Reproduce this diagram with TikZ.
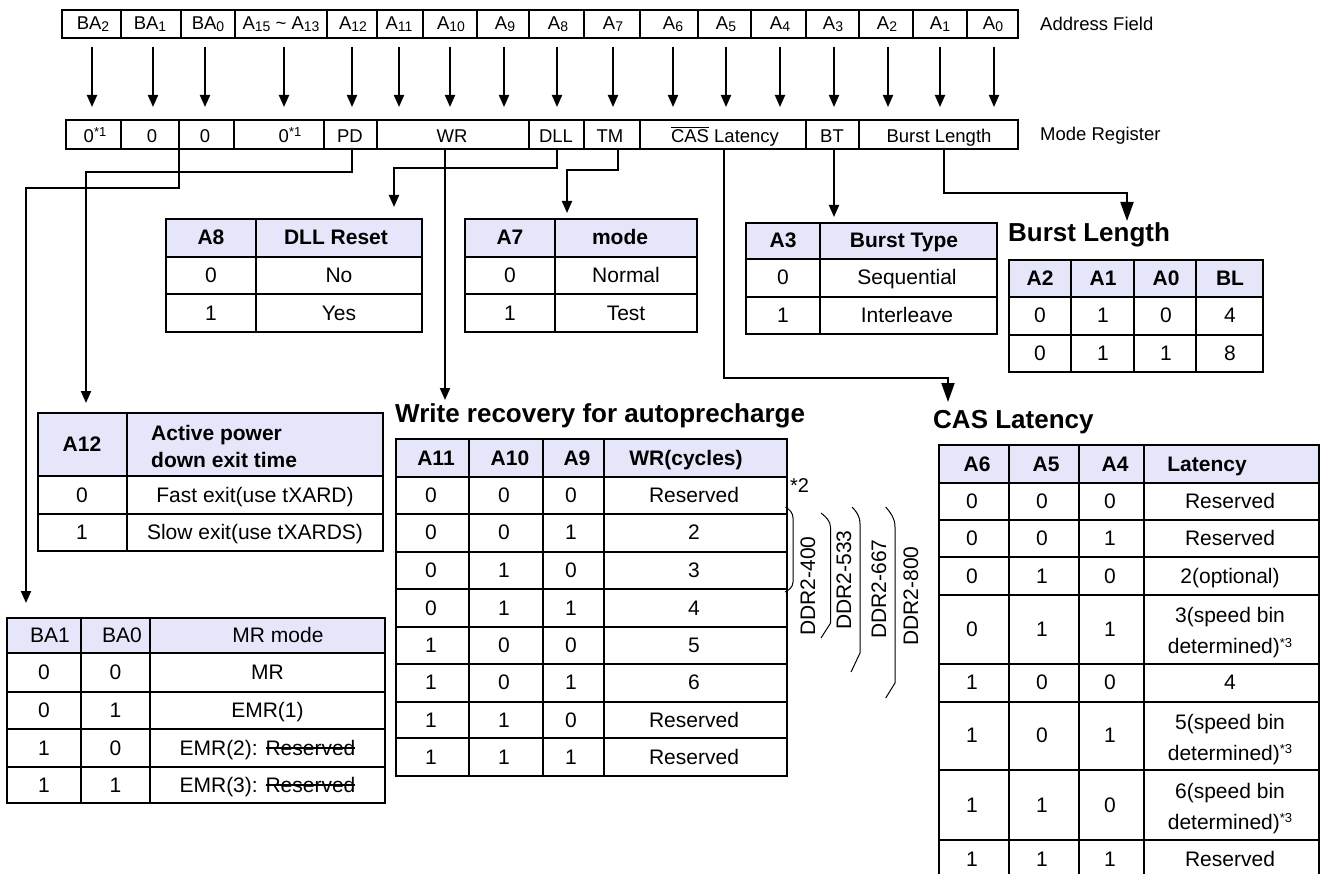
\documentclass[tikz,border=0pt]{standalone}
\usepackage{fontspec}
\setmainfont{Liberation Sans}
\usetikzlibrary{arrows.meta}
\definecolor{hdrfill}{RGB}{230,230,250}
\newcommand{\lsub}[1]{\raisebox{-2pt}{\fontsize{14}{14}\selectfont #1}}
\newcommand{\lsup}[1]{\raisebox{6.5pt}{\fontsize{13}{13}\selectfont #1}}
\newcommand{\ovl}[1]{\setbox0\hbox{#1}\rlap{\rule[\dimexpr\ht0+1.6pt\relax]{\wd0}{1.3pt}}\box0\relax}
\newcommand{\strk}[1]{\setbox0\hbox{#1}\rlap{\rule[0.3em]{\wd0}{1.4pt}}\box0\relax}
\tikzset{
  ln/.style={line width=2pt},
  arr/.style={line width=2pt,-{Triangle[length=12pt,width=10pt]}},
  bigarr/.style={line width=2pt,-{Triangle[length=19pt,width=13pt]}},
  bartxt/.style={font=\fontsize{18.5}{22}\selectfont,inner sep=0pt,anchor=base},
  tabtxt/.style={font=\fontsize{21}{25}\selectfont,inner sep=0pt,anchor=base},
  tabhd/.style={font=\fontsize{21}{25}\selectfont\bfseries,inner sep=0pt,anchor=base},
  ttl/.style={font=\fontsize{26}{30}\selectfont\bfseries,inner sep=0pt,anchor=base west},
  brk/.style={line width=1pt},
  ddr/.style={font=\fontsize{21}{25}\selectfont,inner sep=0pt,rotate=90},
}
\begin{document}
\begin{tikzpicture}[x=1pt,y=-1pt]
\useasboundingbox (0,0) rectangle (1324,874);

% ---------- Address field bar ----------
\draw[ln] (62,10) rectangle (1018,38);
\foreach \x in {121,181,235,327,377,423,477,529,583.5,640,698,751,806,859,912.5,967}
  \draw[ln] (\x,10) -- (\x,38);
\foreach \x/\n/\t in {93/tBA2/{BA\lsub{2}},150/tBA1/{BA\lsub{1}},208/tBA0/{BA\lsub{0}},
   281/tA15/{A\lsub{15} \textasciitilde\ A\lsub{13}},353/tA12/{A\lsub{12}},399/tA11/{A\lsub{11}},
   451/tA10/{A\lsub{10}},505/tA9/{A\lsub{9}},558/tA8/{A\lsub{8}},613/tA7/{A\lsub{7}},
   673/tA6/{A\lsub{6}},726/tA5/{A\lsub{5}},780/tA4/{A\lsub{4}},833/tA3/{A\lsub{3}},
   887/tA2/{A\lsub{2}},940/tA1/{A\lsub{1}},993/tA0/{A\lsub{0}}}
  \node[bartxt] (\n) at (\x,30) {\t};
\node[bartxt,anchor=base west] (addrlbl) at (1040,31) {Address Field};

% ---------- arrows address -> register ----------
\foreach \x [count=\i] in {92,153,205,284,352,399,450,504,557,613,673,726,780,834,888,940,994}{
  \coordinate (as\i) at (\x,47);
  \coordinate (ae\i) at (\x,107);
  \draw[arr] (as\i) -- (ae\i);
}

% ---------- Mode register bar ----------
\draw[ln] (66,120) rectangle (1018,149);
\foreach \x in {121,179,234,324,377,529,583.5,640,806,859}
  \draw[ln] (\x,120) -- (\x,149);
\node[bartxt] (r1) at (95,143) {0\lsup{*1}};
\node[bartxt] (r2) at (152,143) {0};
\node[bartxt] (r3) at (205,143) {0};
\node[bartxt] (r4) at (290,143) {0\lsup{*1}};
\node[bartxt] (r5) at (350,143) {PD};
\node[bartxt] (r6) at (452,143) {WR};
\node[bartxt] (r7) at (556,143) {DLL};
\node[bartxt] (r8) at (610,143) {TM};
\node[bartxt] (r9) at (725,143) {\ovl{CAS} Latency};
\node[bartxt] (r10) at (832,143) {BT};
\node[bartxt] (r11) at (939,143) {Burst Length};
\node[bartxt,anchor=base west] (mrlbl) at (1040,141) {Mode Register};

% ---------- connectors from register ----------
\coordinate (cBA) at (179,149);  \coordinate (eBA) at (26,603);
\coordinate (cPD) at (352,149);  \coordinate (ePD) at (86,403);
\coordinate (cWR) at (445,149);  \coordinate (eWR) at (445,400);
\coordinate (cDLL) at (557,149); \coordinate (eDLL) at (394,207);
\coordinate (cTM) at (618,149);  \coordinate (eTM) at (567,213);
\coordinate (cCAS) at (724,149); \coordinate (eCAS) at (948,402);
\coordinate (cBT) at (834,149);  \coordinate (eBT) at (834,217);
\coordinate (cBL) at (944,149);  \coordinate (eBL) at (1127,221);
\draw[arr] (cBA) -- (179,188) -| (eBA);
\draw[arr] (cPD) -- (352,172) -| (ePD);
\draw[arr] (cWR) -- (eWR);
\draw[arr] (cDLL) -- (557,168) -| (eDLL);
\draw[arr] (cTM) -- (618,170) -| (eTM);
\draw[bigarr] (cCAS) -- (724,378) -| (eCAS);
\draw[arr] (cBT) -- (eBT);
\draw[bigarr] (cBL) -- (944,193) -| (eBL);

% ---------- DLL table ----------
\fill[hdrfill] (166,219) rectangle (422,257);
\draw[ln] (166,219) rectangle (422,332);
\draw[ln] (256,219) -- (256,332) (166,257) -- (422,257) (166,294) -- (422,294);
\node[tabhd] (dllh1) at (211,245) {A8};
\node[tabhd] (dllh2) at (336,245) {DLL Reset};
\node[tabtxt] (dll11) at (211,282.5) {0};
\node[tabtxt] (dll12) at (339,282.5) {No};
\node[tabtxt] (dll21) at (211,320) {1};
\node[tabtxt] (dll22) at (339,320) {Yes};

% ---------- TM table ----------
\fill[hdrfill] (465,219) rectangle (697,257);
\draw[ln] (465,219) rectangle (697,332);
\draw[ln] (555,219) -- (555,332) (465,257) -- (697,257) (465,294) -- (697,294);
\node[tabhd] (tmh1) at (510,245) {A7};
\node[tabhd] (tmh2) at (620,245) {mode};
\node[tabtxt] (tm11) at (510,282.5) {0};
\node[tabtxt] (tm12) at (626,282.5) {Normal};
\node[tabtxt] (tm21) at (510,320) {1};
\node[tabtxt] (tm22) at (626,320) {Test};

% ---------- BT table ----------
\fill[hdrfill] (746,223) rectangle (997,259);
\draw[ln] (746,223) rectangle (997,334);
\draw[ln] (820,223) -- (820,334) (746,259) -- (997,259) (746,297) -- (997,297);
\node[tabhd] (bth1) at (783,248) {A3};
\node[tabhd] (bth2) at (904,248) {Burst Type};
\node[tabtxt] (bt11) at (783,285) {0};
\node[tabtxt] (bt12) at (907,285) {Sequential};
\node[tabtxt] (bt21) at (783,322.5) {1};
\node[tabtxt] (bt22) at (907,322.5) {Interleave};

% ---------- Burst length ----------
\node[ttl] (bltitle) at (1008,242) {Burst Length};
\fill[hdrfill] (1009,260) rectangle (1263,297);
\draw[ln] (1009,260) rectangle (1263,372);
\draw[ln] (1071,260) -- (1071,372) (1134,260) -- (1134,372) (1196,260) -- (1196,372)
          (1009,297) -- (1263,297) (1009,335) -- (1263,335);
\node[tabhd] (blh1) at (1040,285.5) {A2};
\node[tabhd] (blh2) at (1103,285.5) {A1};
\node[tabhd] (blh3) at (1166,285.5) {A0};
\node[tabhd] (blh4) at (1230,285.5) {BL};
\node[tabtxt] (bl11) at (1040,323) {0};
\node[tabtxt] (bl12) at (1103,323) {1};
\node[tabtxt] (bl13) at (1166,323) {0};
\node[tabtxt] (bl14) at (1230,323) {4};
\node[tabtxt] (bl21) at (1040,360.5) {0};
\node[tabtxt] (bl22) at (1103,360.5) {1};
\node[tabtxt] (bl23) at (1166,360.5) {1};
\node[tabtxt] (bl24) at (1230,360.5) {8};

% ---------- A12 table ----------
\fill[hdrfill] (38,413) rectangle (383,476);
\draw[ln] (38,413) rectangle (383,551);
\draw[ln] (127,413) -- (127,551) (38,476) -- (383,476) (38,514) -- (383,514);
\node[tabhd] (pdh1) at (82,451.5) {A12};
\node[tabhd,anchor=base west] (pdh2) at (151,440) {Active power};
\node[tabhd,anchor=base west] (pdh3) at (151,467) {down exit time};
\node[tabtxt] (pd11) at (82,502) {0};
\node[tabtxt] (pd12) at (255,502) {Fast exit(use tXARD)};
\node[tabtxt] (pd21) at (82,539.5) {1};
\node[tabtxt] (pd22) at (255,539.5) {Slow exit(use tXARDS)};

% ---------- BA table ----------
\fill[hdrfill] (7,618) rectangle (385,653);
\draw[ln] (7,618) rectangle (385,803);
\draw[ln] (81,618) -- (81,803) (150,618) -- (150,803);
\foreach \y in {653,692,729,767} \draw[ln] (7,\y) -- (385,\y);
\node[tabtxt] (bah1) at (50,642.5) {BA1};
\node[tabtxt] (bah2) at (122,642.5) {BA0};
\node[tabtxt] (bah3) at (278,642.5) {MR mode};
\node[tabtxt] (ba11) at (44,679.5) {0};
\node[tabtxt] (ba12) at (115.5,679.5) {0};
\node[tabtxt] (ba13) at (267.5,679.5) {MR};
\node[tabtxt] (ba21) at (44,717.5) {0};
\node[tabtxt] (ba22) at (115.5,717.5) {1};
\node[tabtxt] (ba23) at (267.5,717.5) {EMR(1)};
\node[tabtxt] (ba31) at (44,755) {1};
\node[tabtxt] (ba32) at (115.5,755) {0};
\node[tabtxt] (ba33) at (267.5,755) {EMR(2): \strk{Reserved}};
\node[tabtxt] (ba41) at (44,792) {1};
\node[tabtxt] (ba42) at (115.5,792) {1};
\node[tabtxt] (ba43) at (267.5,792) {EMR(3): \strk{Reserved}};

% ---------- WR table ----------
\node[ttl] (wrtitle) at (395,422) {Write recovery for autoprecharge};
\fill[hdrfill] (395.5,439.3) rectangle (787,477.3);
\draw[ln] (395.5,439.3) rectangle (787,776);
\draw[ln] (469.4,439.3) -- (469.4,776) (542.7,439.3) -- (542.7,776) (603.6,439.3) -- (603.6,776);
\foreach \y in {477.3,514,551.7,589.3,626.7,664,701.7,738.3} \draw[ln] (395.5,\y) -- (787,\y);
\node[tabhd] (wrh1) at (436,465.3) {A11};
\node[tabhd] (wrh2) at (510,465.3) {A10};
\node[tabhd] (wrh3) at (577,465.3) {A9};
\node[tabhd] (wrh4) at (686,465.3) {WR(cycles)};
\foreach \yc/\a/\b/\c/\d [count=\i] in {495.7/0/0/0/Reserved,532.9/0/0/1/2,570.5/0/1/0/3,608/0/1/1/4,
   645.4/1/0/0/5,682.9/1/0/1/6,720/1/1/0/Reserved,757.2/1/1/1/Reserved}{
  \node[tabtxt] (wr\i a) at (431,\yc+7) {\a};
  \node[tabtxt] (wr\i b) at (504,\yc+7) {\b};
  \node[tabtxt] (wr\i c) at (571,\yc+7) {\c};
  \node[tabtxt] (wr\i d) at (694,\yc+7) {\d};
}
\node[font=\fontsize{20}{24}\selectfont,inner sep=0pt,anchor=base west] (note2) at (790,492) {*2};

% ---------- DDR2 brackets ----------
\draw[brk] (785.5,507) .. controls (790,510) and (793,513) .. (793,518) -- (793,582)
           .. controls (793,587) and (789,590) .. (785,592);
\draw[brk] (821,513) .. controls (826,517) and (830.6,521) .. (830.6,528) -- (830.6,623) -- (821,638);
\draw[brk] (852,507) .. controls (856,511) and (860,516) .. (860,524) -- (860,653) -- (851,672);
\draw[brk] (885.7,507) .. controls (890,512) and (895,518) .. (895,527) -- (895,683) -- (885.7,698);
\node[ddr] (ddr400) at (808,586) {DDR2-400};
\node[ddr] (ddr533) at (844,580) {DDR2-533};
\node[ddr] (ddr667) at (879,589) {DDR2-667};
\node[ddr] (ddr800) at (911,596) {DDR2-800};

% ---------- CAS latency table ----------
\node[ttl] (castitle) at (933,428) {CAS Latency};
\fill[hdrfill] (939.3,445) rectangle (1319.3,482.7);
\draw[ln] (939.3,445) rectangle (1319.3,878);
\draw[ln] (1009,445) -- (1009,878) (1079,445) -- (1079,878) (1144.3,445) -- (1144.3,878);
\foreach \y in {482.7,520,557.3,595,664,701.7,770,840} \draw[ln] (939.3,\y) -- (1319.3,\y);
\node[tabhd] (cash1) at (977,471) {A6};
\node[tabhd] (cash2) at (1046,471) {A5};
\node[tabhd] (cash3) at (1115,471) {A4};
\node[tabhd] (cash4) at (1207,471) {Latency};
\foreach \yc/\a/\b/\c [count=\i] in {501.4/0/0/0,538.7/0/0/1,576.2/0/1/0,629.5/0/1/1,
   682.9/1/0/0,735.9/1/0/1,805/1/1/0,859/1/1/1}{
  \node[tabtxt] (cas\i a) at (972,\yc+7) {\a};
  \node[tabtxt] (cas\i b) at (1042,\yc+7) {\b};
  \node[tabtxt] (cas\i c) at (1110,\yc+7) {\c};
}
\node[tabtxt] (cas1d) at (1230,508.4) {Reserved};
\node[tabtxt] (cas2d) at (1230,545.7) {Reserved};
\node[tabtxt] (cas3d) at (1230,583.2) {2(optional)};
\node[tabtxt] (cas4d) at (1230,622.5) {3(speed bin};
\node[tabtxt] (cas4e) at (1230,653.5) {determined)\lsup{*3}};
\node[tabtxt] (cas5d) at (1230,689.9) {4};
\node[tabtxt] (cas6d) at (1230,729) {5(speed bin};
\node[tabtxt] (cas6e) at (1230,760) {determined)\lsup{*3}};
\node[tabtxt] (cas7d) at (1230,798) {6(speed bin};
\node[tabtxt] (cas7e) at (1230,829) {determined)\lsup{*3}};
\node[tabtxt] (cas8d) at (1230,866) {Reserved};
\end{tikzpicture}
\end{document}
